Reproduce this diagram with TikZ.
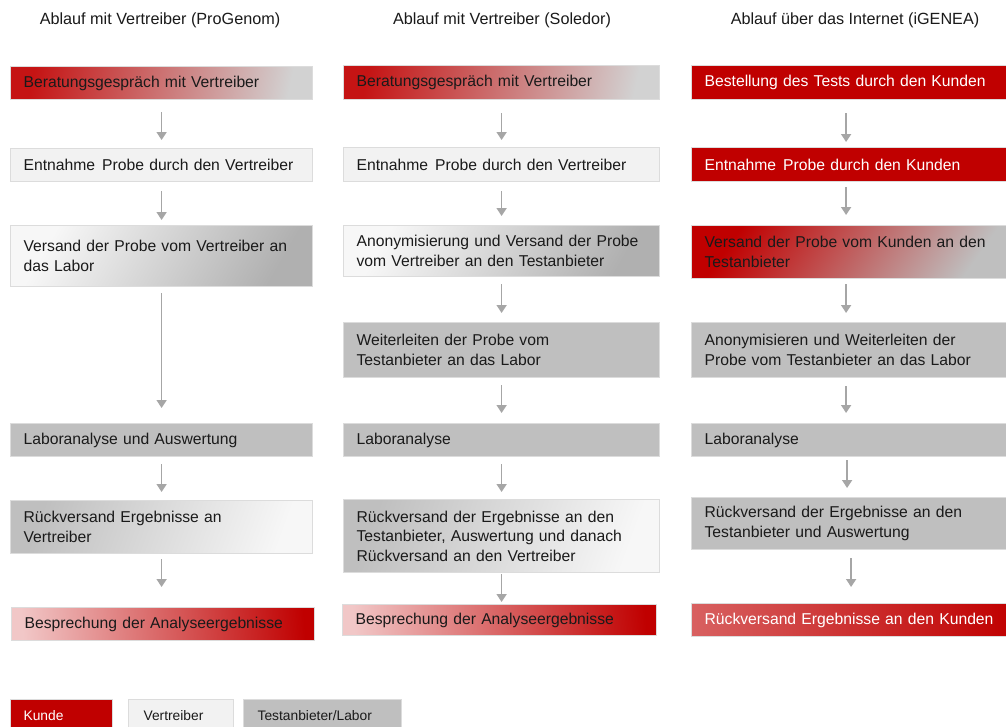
\documentclass[tikz,border=0pt]{standalone}
\usepackage{fontspec}
\setmainfont{Liberation Sans}
\usetikzlibrary{arrows.meta}
\definecolor{kred}{HTML}{C00000}
\definecolor{vlight}{HTML}{F2F2F2}
\definecolor{tgray}{HTML}{BFBFBF}
\definecolor{bcol}{HTML}{DCDCDC}
\definecolor{acol}{HTML}{A6A6A6}
\definecolor{tcol}{HTML}{1A1A1A}
\begin{document}
\begin{tikzpicture}[x=1pt,y=-1pt,
 fbox/.style={draw=bcol, line width=1.2pt, anchor=north west, inner xsep=13pt, inner ysep=2pt,
   align=left, text=tcol, font=\fontsize{15.7}{19.5}\selectfont},
 w1/.style={text width=276pt},
 w2/.style={text width=290pt},
 w3/.style={text width=295pt},
 kunde/.style={fill=kred, text=white},
 vert/.style={fill=vlight},
 test/.style={fill=tgray},
 gredgray/.style={left color=kred!92, middle color=white!94!gray, right color=gray!35, shading angle=78},
 glightdark/.style={left color=gray!6, right color=gray!62, shading angle=60},
 gdarklight/.style={left color=gray!50, right color=gray!6, shading angle=70},
 gpinkred/.style={left color=kred!22, right color=kred, shading angle=95},
 gredtest/.style={left color=kred, middle color=tgray, right color=tgray, shading angle=55},
 gredwhite/.style={left color=kred!62, right color=kred, text=white},
 head/.style={font=\fontsize{16.2}{19}\selectfont, text=tcol},
 legend/.style={draw=bcol, line width=1.2pt, anchor=north west, align=left, text=tcol,
   minimum height=32pt, inner ysep=2pt, font=\fontsize{13.8}{16}\selectfont},
 arr/.style={draw=acol, line width=1.6pt, -{Triangle[width=10pt,length=8pt]}}
]
\useasboundingbox (0,0) rectangle (1006,726);
\fill[white] (0,0) rectangle (1006,726);

% headers
\node[head] (h1) at (160,20) {Ablauf mit Vertreiber (ProGenom)};
\node[head] (h2) at (502,20) {Ablauf mit Vertreiber (Soledor)};
\node[head] (h3) at (855,20) {Ablauf über das Internet (iGENEA)};

% column 1
\node[fbox,w1,minimum height=33pt,gredgray] (a1) at (10,66) {Beratungsgespräch mit Vertreiber};
\node[fbox,w1,minimum height=33pt,vert] (a2) at (10,148) {Entnahme\hspace{7pt}Probe durch den Vertreiber};
\node[fbox,w1,minimum height=61pt,glightdark] (a3) at (10,225) {Versand der Probe vom Vertreiber an\\das Labor};
\node[fbox,w1,minimum height=33pt,test] (a4) at (10,423) {Laboranalyse und Auswertung};
\node[fbox,w1,minimum height=53pt,gdarklight] (a5) at (10,500) {Rückversand Ergebnisse an\\Vertreiber};
\node[fbox,text width=277pt,minimum height=33pt,gpinkred] (a6) at (11,607) {Besprechung der Analyseergebnisse};

% column 2
\node[fbox,w2,minimum height=34pt,gredgray] (b1) at (343,65) {Beratungsgespräch mit Vertreiber};
\node[fbox,w2,minimum height=34pt,vert] (b2) at (343,147) {Entnahme\hspace{7pt}Probe durch den Vertreiber};
\node[fbox,w2,minimum height=51pt,glightdark] (b3) at (343,225) {Anonymisierung und Versand der Probe\\vom Vertreiber an den Testanbieter};
\node[fbox,w2,minimum height=55pt,test] (b4) at (343,322) {Weiterleiten der Probe vom\\Testanbieter an das Labor};
\node[fbox,w2,minimum height=33pt,test] (b5) at (343,423) {Laboranalyse};
\node[fbox,w2,minimum height=73pt,gdarklight] (b6) at (343,499) {Rückversand der Ergebnisse an den\\Testanbieter, Auswertung und danach\\Rückversand an den Vertreiber};
\node[fbox,text width=288pt,minimum height=31pt,gpinkred] (b7) at (342,604) {Besprechung der Analyseergebnisse};

% column 3
\node[fbox,w3,minimum height=34pt,kunde] (c1) at (691,65) {Bestellung des Tests durch den Kunden};
\node[fbox,w3,minimum height=34pt,kunde] (c2) at (691,147) {Entnahme\hspace{7pt}Probe durch den Kunden};
\node[fbox,w3,minimum height=53pt,gredtest] (c3) at (691,225) {Versand der Probe vom Kunden an den\\Testanbieter};
\node[fbox,w3,minimum height=55pt,test] (c4) at (691,322) {Anonymisieren und Weiterleiten der\\Probe vom Testanbieter an das Labor};
\node[fbox,w3,minimum height=33pt,test] (c5) at (691,423) {Laboranalyse};
\node[fbox,w3,minimum height=52pt,test] (c6) at (691,497) {Rückversand der Ergebnisse an den\\Testanbieter und Auswertung};
\node[fbox,w3,minimum height=33pt,gredwhite] (c7) at (691,603) {Rückversand Ergebnisse an den Kunden};

% arrows column 1
\draw[arr, shorten <=12pt, shorten >=8pt] (a1.south) -- (a2.north);
\draw[arr, shorten <=9pt, shorten >=5pt] (a2.south) -- (a3.north);
\draw[arr, shorten <=6pt, shorten >=15pt] (a3.south) -- (a4.north);
\draw[arr, shorten <=7pt, shorten >=8pt] (a4.south) -- (a5.north);
\draw[arr, shorten <=5pt, shorten >=20pt] (a5.south) -- (a5.south |- a6.north);

% arrows column 2
\draw[arr, shorten <=13pt, shorten >=7pt] (b1.south) -- (b2.north);
\draw[arr, shorten <=9pt, shorten >=9pt] (b2.south) -- (b3.north);
\draw[arr, shorten <=7pt, shorten >=9pt] (b3.south) -- (b4.north);
\draw[arr, shorten <=7pt, shorten >=10pt] (b4.south) -- (b5.north);
\draw[arr, shorten <=7pt, shorten >=7pt] (b5.south) -- (b6.north);
\draw[arr, shorten <=1pt, shorten >=2pt] (b6.south) -- (b6.south |- b7.north);

% arrows column 3
\draw[arr, shorten <=13pt, shorten >=5pt] ([xshift=-6pt]c1.south) -- ([xshift=-6pt]c2.north);
\draw[arr, shorten <=5pt, shorten >=10pt] ([xshift=-6pt]c2.south) -- ([xshift=-6pt]c3.north);
\draw[arr, shorten <=5pt, shorten >=9pt] ([xshift=-6pt]c3.south) -- ([xshift=-6pt]c4.north);
\draw[arr, shorten <=8pt, shorten >=10pt] ([xshift=-6pt]c4.south) -- ([xshift=-6pt]c5.north);
\draw[arr, shorten <=3pt, shorten >=9pt] ([xshift=-5pt]c5.south) -- ([xshift=-5pt]c6.north);
\draw[arr, shorten <=8pt, shorten >=16pt] ([xshift=-1pt]c6.south) -- ([xshift=-1pt]c7.north);

% legend
\node[legend,kunde,inner xsep=13pt,text width=76pt] (l1) at (10,699) {Kunde};
\node[legend,vert,inner xsep=15pt,text width=75pt] (l2) at (128,699) {Vertreiber};
\node[legend,test,inner xsep=14pt,text width=130pt] (l3) at (243,699) {Testanbieter/Labor};
\end{tikzpicture}
\end{document}
